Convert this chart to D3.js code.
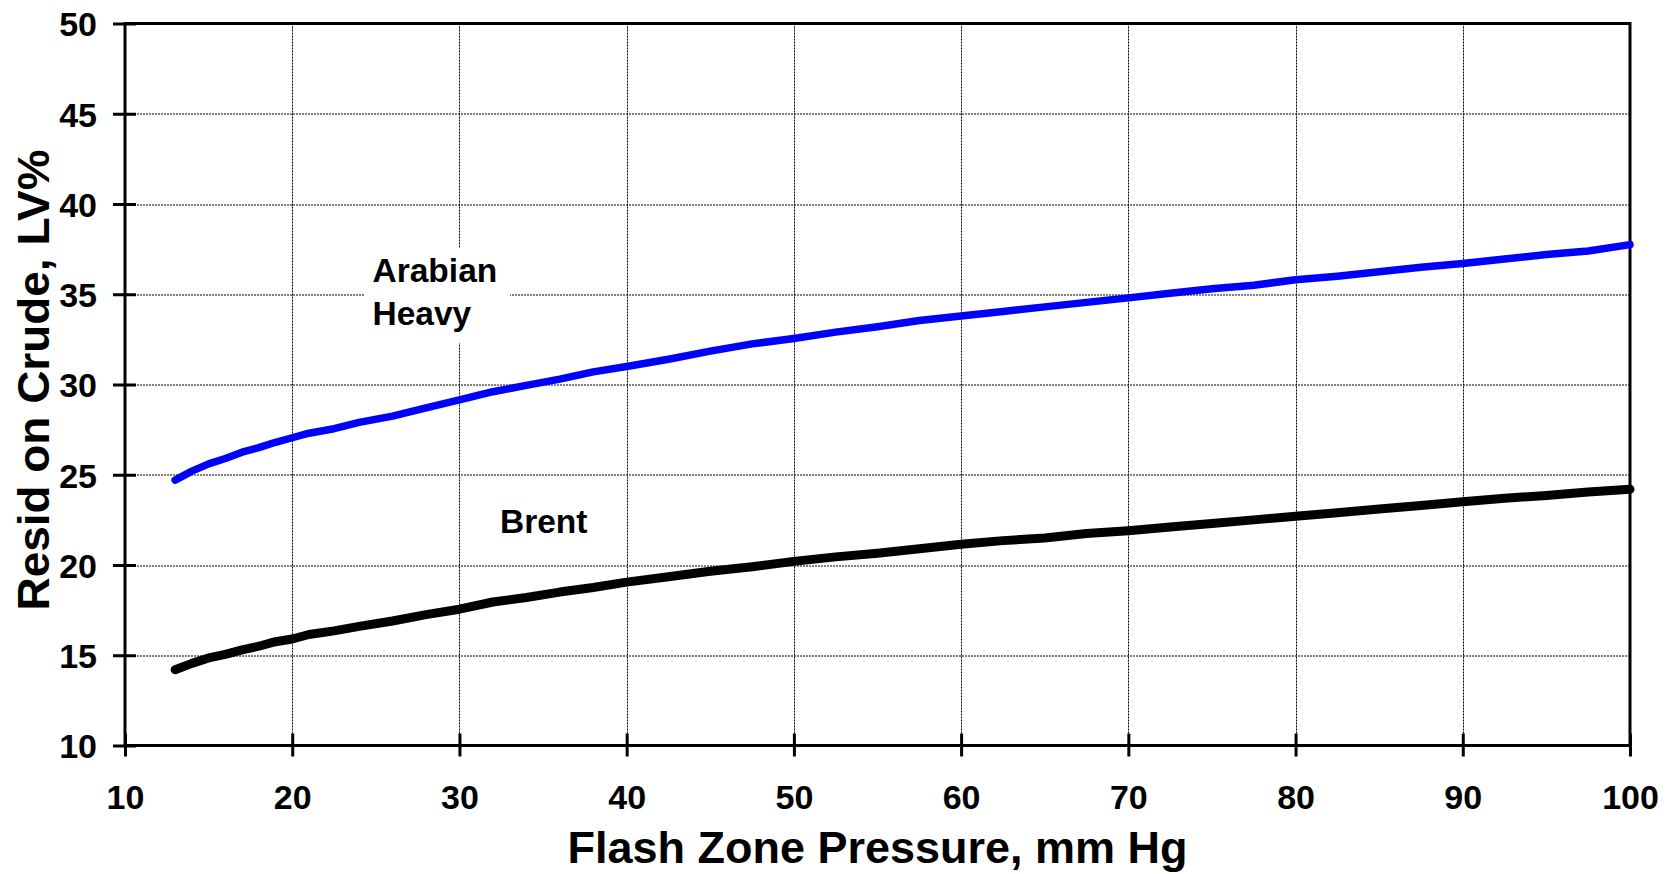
<!DOCTYPE html>
<html>
<head>
<meta charset="utf-8">
<script src="https://cdn.jsdelivr.net/npm/d3@7"></script>
<style>
  html, body { margin: 0; padding: 0; background: #fff; }
  svg { display: block; font-family: "Liberation Sans", Arial, sans-serif; font-weight: bold; }
</style>
</head>
<body>
<svg id="chart" width="1673" height="874"></svg>
<script>
// Flash zone pressure (mm Hg) and residue yield on crude (LV%) for two crudes
const pressure = [13, 14, 15, 16, 17, 18, 19, 20, 21, 22.5, 24, 26, 28, 30, 32, 34, 36, 38, 40,
  42.5, 45, 47.5, 50, 52.5, 55, 57.5, 60, 62.5, 65, 67.5, 70, 72.5, 75, 77.5, 80,
  82.5, 85, 87.5, 90, 92.5, 95, 97.5, 100];

const arabianHeavy = [24.7, 25.2, 25.6, 25.9, 26.25, 26.5, 26.8, 27.05, 27.3, 27.55, 27.9, 28.25, 28.7, 29.15, 29.6, 29.95, 30.3, 30.7, 31.0,
  31.4, 31.85, 32.25, 32.55, 32.9, 33.2, 33.55, 33.8, 34.05, 34.3, 34.55, 34.8, 35.05, 35.3, 35.5, 35.8,
  36.0, 36.25, 36.5, 36.7, 36.95, 37.2, 37.4, 37.75];

const brent = [14.2, 14.55, 14.85, 15.05, 15.3, 15.5, 15.75, 15.9, 16.15, 16.35, 16.6, 16.9, 17.25, 17.55, 17.95, 18.2, 18.5, 18.75, 19.05,
  19.35, 19.65, 19.9, 20.2, 20.45, 20.65, 20.9, 21.15, 21.35, 21.5, 21.75, 21.9, 22.1, 22.3, 22.5, 22.7,
  22.9, 23.1, 23.3, 23.5, 23.7, 23.85, 24.05, 24.2];

const xTicks = [10, 20, 30, 40, 50, 60, 70, 80, 90, 100];
const yTicks = [10, 15, 20, 25, 30, 35, 40, 45, 50];

const xTitle = "Flash Zone Pressure, mm Hg";
const yTitle = "Resid on Crude, LV%";

const svg = d3.select("#chart");
const margin = { left: 125, top: 23.5, right: 43, bottom: 128.5 };
const W = 1673 - margin.left - margin.right;
const H = 874 - margin.top - margin.bottom;

const x = d3.scaleLinear().domain([10, 100]).range([0, W]);
const y = d3.scaleLinear().domain([10, 50]).range([H, 0]);

const g = svg.append("g").attr("transform", `translate(${margin.left},${margin.top})`);

// dotted grid
const grid = g.append("g").attr("class", "grid");
grid.selectAll("line.v").data(xTicks.slice(1, -1)).join("line")
  .attr("x1", d => Math.round(x(d)) + 0.5).attr("x2", d => Math.round(x(d)) + 0.5)
  .attr("y1", 0).attr("y2", H)
  .attr("stroke", "#000").attr("stroke-width", 1).attr("stroke-dasharray", "2,1");
grid.selectAll("line.h").data(yTicks.slice(1, -1)).join("line")
  .attr("y1", d => Math.round(y(d)) + 0.5).attr("y2", d => Math.round(y(d)) + 0.5)
  .attr("x1", 0).attr("x2", W)
  .attr("stroke", "#000").attr("stroke-width", 1).attr("stroke-dasharray", "2,1");

// white box behind the Arabian Heavy label
g.append("rect")
  .attr("x", 365 - margin.left).attr("y", 248 - margin.top)
  .attr("width", 145).attr("height", 95)
  .attr("fill", "#fff");

// axes
const xAxis = g.append("g").attr("transform", `translate(0,${H})`)
  .call(d3.axisBottom(x).tickValues(xTicks).tickFormat(d3.format("d")).tickSize(0).tickPadding(0));
xAxis.select(".domain").remove();
xAxis.selectAll(".tick line").attr("y1", -12).attr("y2", 11).attr("stroke", "#000").attr("stroke-width", 3);
xAxis.selectAll(".tick text")
  .attr("y", 63).attr("dy", null)
  .attr("font-size", 34).attr("font-family", "Liberation Sans, Arial, sans-serif")
  .attr("font-weight", "bold").attr("fill", "#000");

const yAxis = g.append("g")
  .call(d3.axisLeft(y).tickValues(yTicks).tickFormat(d3.format("d")).tickSize(0).tickPadding(0));
yAxis.select(".domain").remove();
yAxis.selectAll(".tick line").attr("x1", -12).attr("x2", 11).attr("stroke", "#000").attr("stroke-width", 3);
yAxis.selectAll(".tick text")
  .attr("x", -28).attr("dy", "0.36em")
  .attr("font-size", 34).attr("font-family", "Liberation Sans, Arial, sans-serif")
  .attr("font-weight", "bold").attr("fill", "#000");

// plot frame
g.append("rect").attr("x", 0).attr("y", 0).attr("width", W).attr("height", H)
  .attr("fill", "none").attr("stroke", "#000").attr("stroke-width", 3);

// series lines
const line = d3.line().x(d => x(d[0])).y(d => y(d[1]));
g.append("path")
  .datum(pressure.map((p, i) => [p, brent[i]]))
  .attr("d", line).attr("fill", "none").attr("stroke", "#000")
  .attr("stroke-width", 9).attr("stroke-linecap", "round").attr("stroke-linejoin", "round");
g.append("path")
  .datum(pressure.map((p, i) => [p, arabianHeavy[i]]))
  .attr("d", line).attr("fill", "none").attr("stroke", "#0000ff")
  .attr("stroke-width", 7.5).attr("stroke-linecap", "round").attr("stroke-linejoin", "round");

// series labels
const lab = g.append("g").attr("font-size", 33.5).attr("fill", "#000");
lab.append("text").attr("x", 372.5 - margin.left).attr("y", 281.5 - margin.top).text("Arabian");
lab.append("text").attr("x", 372.5 - margin.left).attr("y", 325 - margin.top).text("Heavy");
lab.append("text").attr("x", 500 - margin.left).attr("y", 533 - margin.top).text("Brent");

// axis titles
svg.append("text")
  .attr("x", margin.left + W / 2).attr("y", 863)
  .attr("text-anchor", "middle").attr("font-size", 45).attr("fill", "#000")
  .text(xTitle);

svg.append("text")
  .attr("transform", "translate(49,380) rotate(-90)")
  .attr("text-anchor", "middle").attr("font-size", 45).attr("fill", "#000")
  .attr("textLength", 461).attr("lengthAdjust", "spacingAndGlyphs")
  .text(yTitle);
</script>
</body>
</html>
